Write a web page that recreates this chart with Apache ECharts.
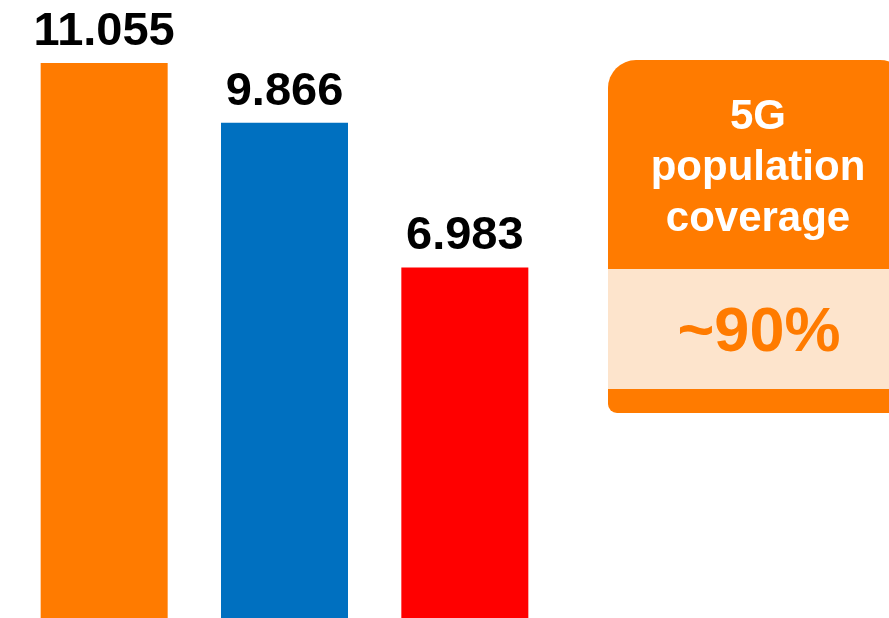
<!DOCTYPE html>
<html>
<head>
<meta charset="utf-8">
<style>
  html, body { margin: 0; padding: 0; background: #ffffff; }
  #chart { width: 889px; height: 618px; }
</style>
<script src="https://cdn.jsdelivr.net/npm/echarts@6/dist/echarts.min.js"></script>
</head>
<body>
<div id="chart"></div>
<script>
// Subscriber totals per bar and their fill colours
const categories = ['A', 'B', 'C'];
const values = [11.055, 9.866, 6.983];
const barColors = ['#FF7B00', '#0070C0', '#FF0000'];

// Callout panel text
const calloutTitle = ['5G', 'population', 'coverage'];
const calloutValue = '~90%';

const FONT = '"Liberation Sans", Arial, Helvetica, sans-serif';
const ORANGE = '#FF7B00';
const PEACH = '#FDE4CC';

const chart = echarts.init(document.getElementById('chart'), null, { renderer: 'canvas' });

chart.setOption({
  animation: false,
  backgroundColor: '#ffffff',
  grid: { left: 14, width: 541, top: 63, bottom: 0, containLabel: false },
  xAxis: {
    type: 'category',
    data: categories,
    show: false
  },
  yAxis: {
    type: 'value',
    min: 0,
    max: 'dataMax',
    show: false
  },
  series: [{
    type: 'bar',
    barWidth: 127,
    data: values.map((v, i) => ({ value: v, itemStyle: { color: barColors[i] } })),
    label: {
      show: true,
      position: 'top',
      distance: 8,
      fontFamily: FONT,
      fontWeight: 'bold',
      fontSize: 47,
      lineHeight: 46,
      color: '#000000',
      formatter: p => p.value.toFixed(3)
    }
  }],
  graphic: [
    {
      type: 'rect',
      shape: { x: 608, y: 60, width: 300, height: 353, r: [28, 28, 9, 9] },
      style: { fill: ORANGE }
    },
    {
      type: 'rect',
      shape: { x: 608, y: 269, width: 300, height: 120 },
      style: { fill: PEACH }
    },
    {
      type: 'text',
      x: 758,
      y: 168,
      style: {
        text: calloutTitle.join('\n'),
        fill: '#ffffff',
        font: 'bold 42px ' + FONT,
        lineHeight: 51,
        align: 'center',
        verticalAlign: 'middle'
      }
    },
    {
      type: 'text',
      x: 759,
      y: 334,
      style: {
        text: calloutValue,
        fill: ORANGE,
        font: 'bold 63px ' + FONT,
        align: 'center',
        verticalAlign: 'middle'
      }
    }
  ]
});
</script>
</body>
</html>
